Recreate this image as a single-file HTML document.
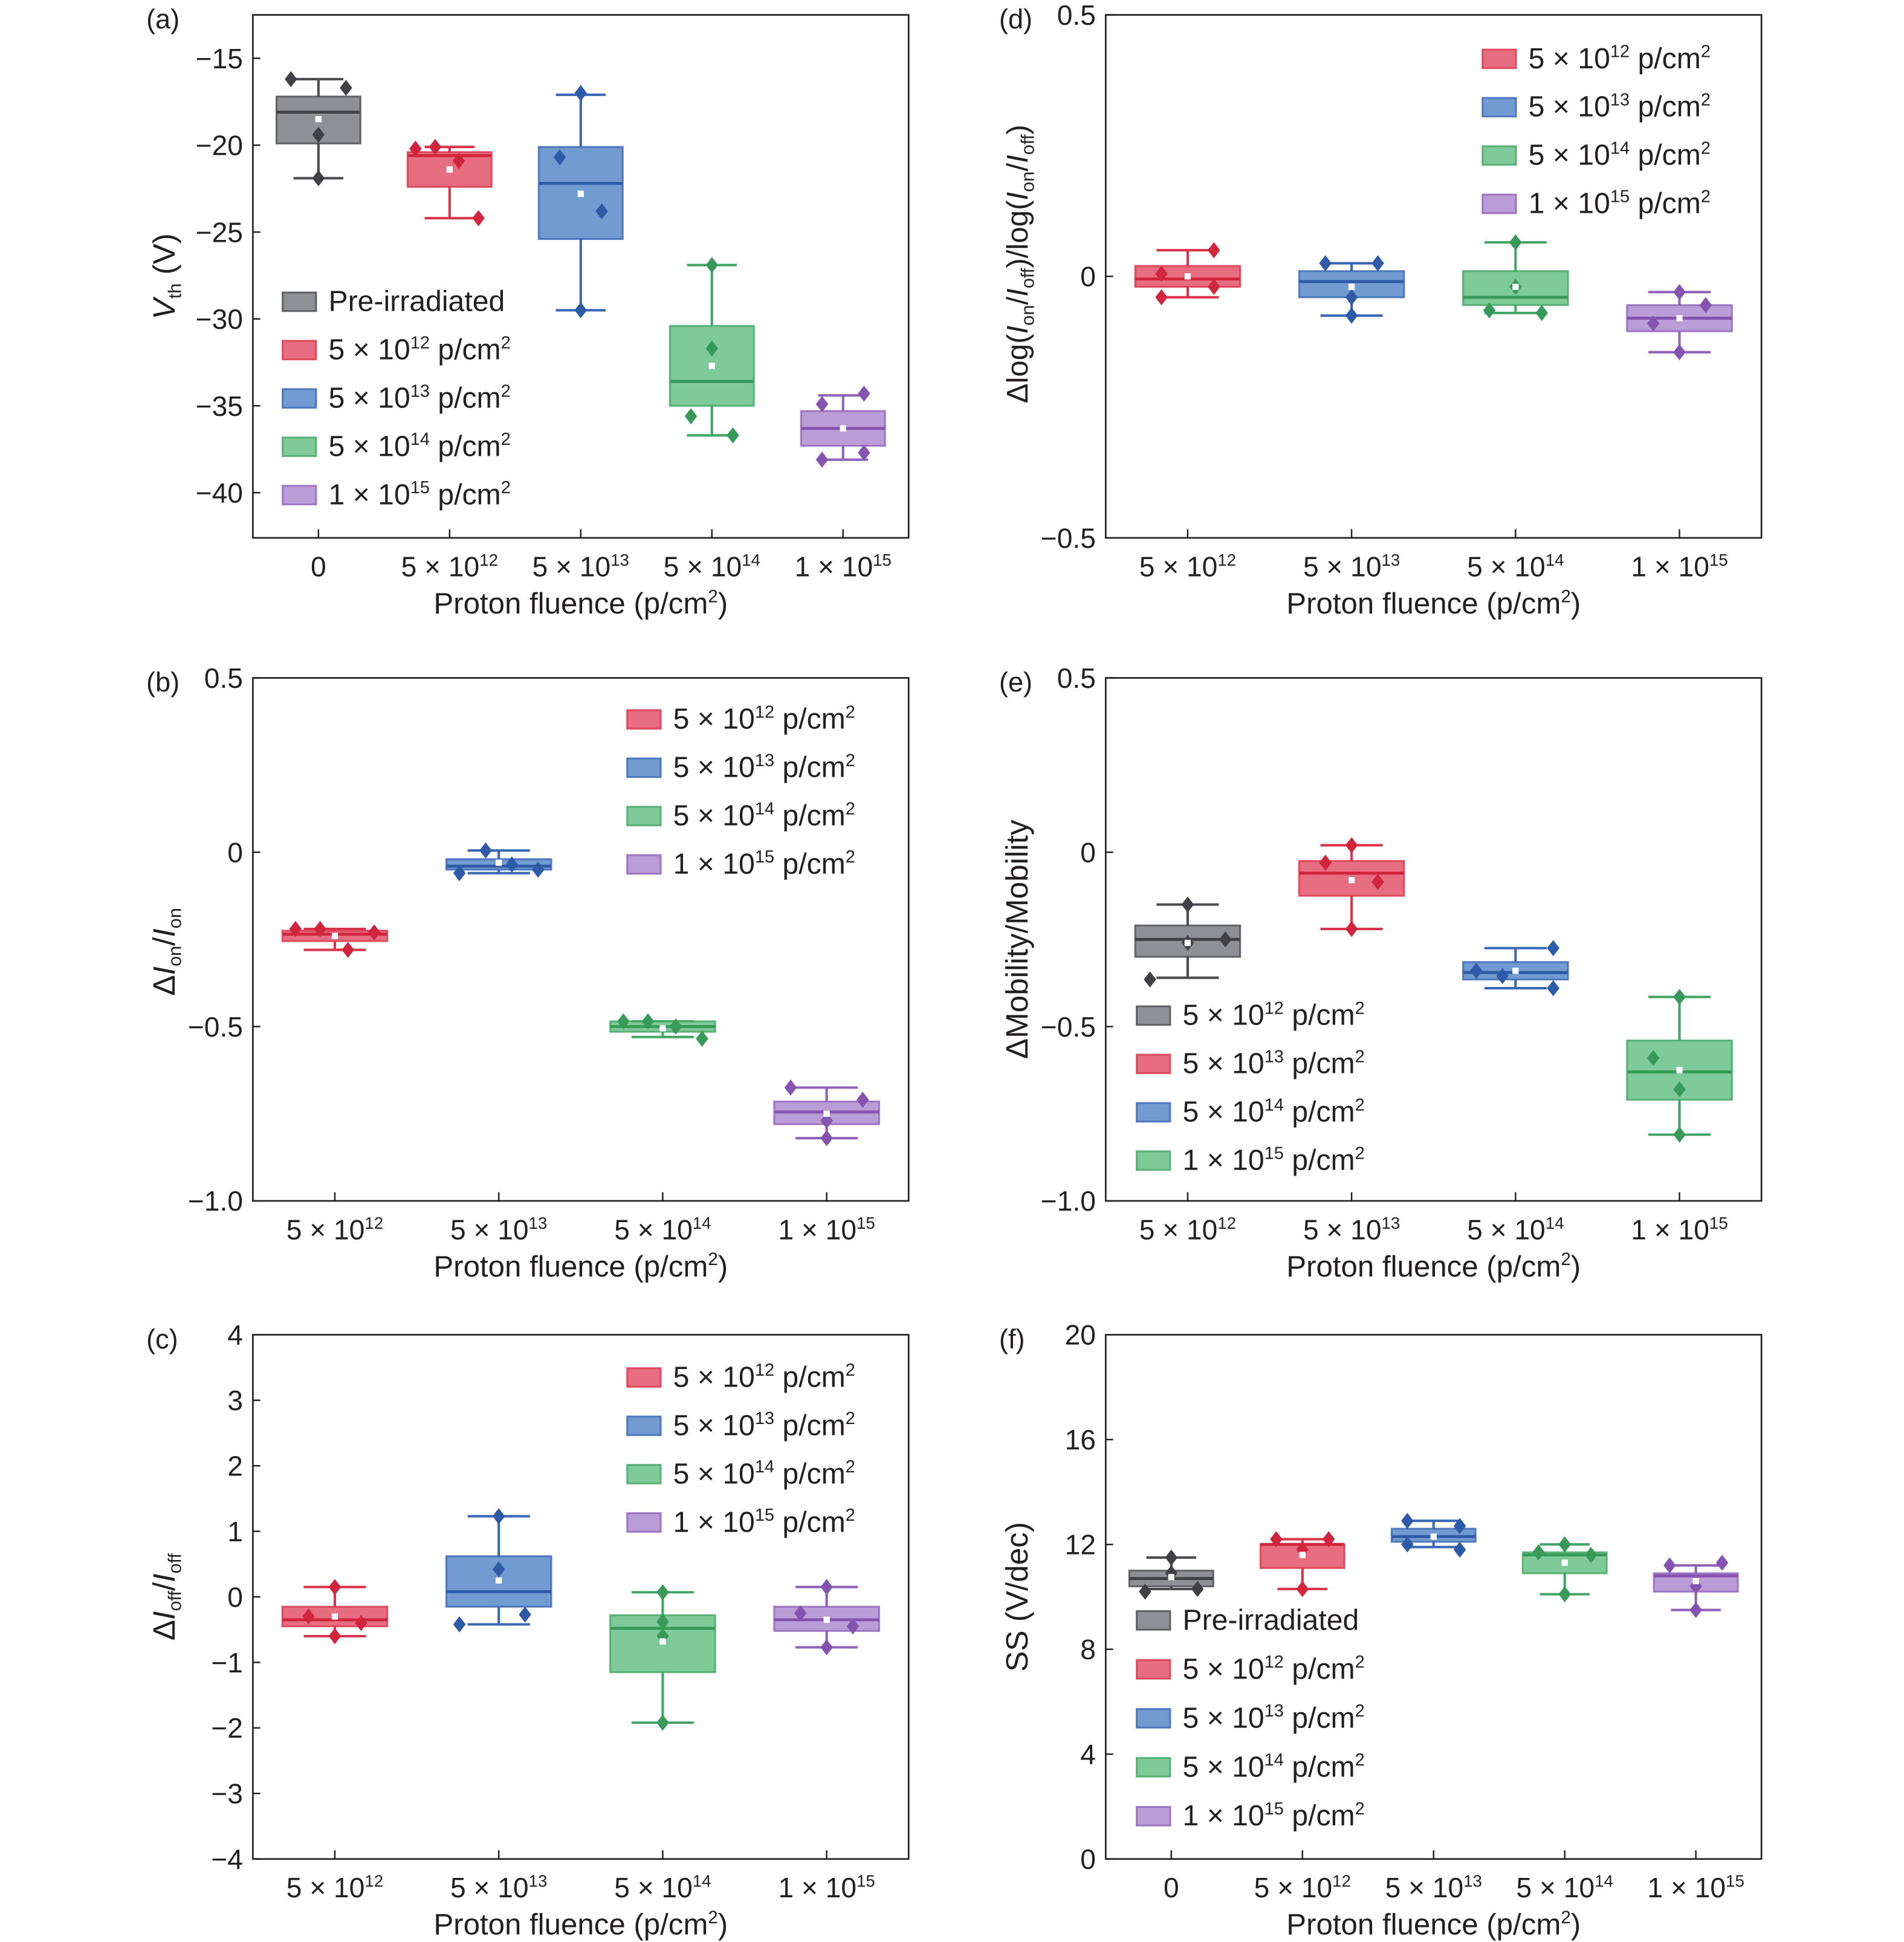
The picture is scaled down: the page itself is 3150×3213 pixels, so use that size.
<!DOCTYPE html>
<html><head><meta charset="utf-8"><style>
html,body{margin:0;padding:0;background:#fff;}
svg{display:block;}
text{font-family:"Liberation Sans",sans-serif;fill:#231f20;}
</style></head><body>
<svg id="fig" xmlns="http://www.w3.org/2000/svg" width="3150" height="3213" viewBox="0 0 1536 1567" preserveAspectRatio="none"></svg>
<script>
// ---------- data ----------
const fluence5 = ['0','5 × 10^12','5 × 10^13','5 × 10^14','1 × 10^15'];
const fluence4 = ['5 × 10^12','5 × 10^13','5 × 10^14','1 × 10^15'];
const legend5 = ['Pre-irradiated','5 × 10^12 p/cm^2','5 × 10^13 p/cm^2','5 × 10^14 p/cm^2','1 × 10^15 p/cm^2'];
const legend4 = ['5 × 10^12 p/cm^2','5 × 10^13 p/cm^2','5 × 10^14 p/cm^2','1 × 10^15 p/cm^2'];

// (a) Vth
const aTicks = [-15,-20,-25,-30,-35,-40];
const aTickLabels = ['−15','−20','−25','−30','−35','−40'];
const aQ3 = [-17.2,-20.4,-20.1,-30.4,-35.3];
const aQ1 = [-19.9,-22.4,-25.4,-35.0,-37.3];
const aMed = [-18.1,-20.6,-22.2,-33.6,-36.3];
const aHi = [-16.2,-20.1,-17.1,-26.9,-34.4];
const aLo = [-21.9,-24.2,-29.5,-36.7,-38.1];
const aMean = [-18.5,-21.4,-22.8,-32.7,-36.3];
const aPts = [[-16.2,-16.7,-19.4,-21.9],[-20.2,-20.1,-20.9,-24.2],[-17.0,-20.7,-23.8,-29.5],[-26.9,-31.7,-35.6,-36.7],[-34.9,-34.3,-37.7,-38.1]];
const aJit = [[-0.21,0.21,0,0],[-0.26,-0.11,0.07,0.22],[0,-0.16,0.16,0],[0,0,-0.16,0.16],[-0.16,0.16,0.16,-0.16]];

// (d) Δlog
const dTicks = [0.5,0,-0.5];
const dTickLabels = ['0.5','0','−0.5'];
const dQ3 = [0.02,0.01,0.01,-0.055];
const dQ1 = [-0.02,-0.04,-0.055,-0.105];
const dMed = [-0.005,-0.01,-0.04,-0.08];
const dHi = [0.05,0.025,0.065,-0.03];
const dLo = [-0.04,-0.075,-0.07,-0.145];
const dMean = [0.0,-0.02,-0.02,-0.08];
const dPts = [[0.005,0.05,-0.02,-0.04],[0.025,0.025,-0.04,-0.075],[0.065,-0.02,-0.065,-0.07],[-0.03,-0.055,-0.09,-0.145]];
const dJit = [[-0.16,0.16,0.16,-0.16],[-0.16,0.16,0,0],[0,0,-0.16,0.16],[0,0.16,-0.16,0]];

// (b) ΔIon/Ion
const bTicks = [0.5,0,-0.5,-1.0];
const bTickLabels = ['0.5','0','−0.5','−1.0'];
const bQ3 = [-0.225,-0.02,-0.485,-0.715];
const bQ1 = [-0.255,-0.05,-0.515,-0.78];
const bMed = [-0.235,-0.04,-0.5,-0.745];
const bHi = [-0.22,0.005,-0.485,-0.675];
const bLo = [-0.28,-0.06,-0.53,-0.82];
const bMean = [-0.24,-0.03,-0.505,-0.75];
const bPts = [[-0.22,-0.22,-0.23,-0.28],[0.005,-0.035,-0.06,-0.05],[-0.485,-0.485,-0.5,-0.535],[-0.675,-0.71,-0.77,-0.82]];
const bJit = [[-0.24,-0.09,0.24,0.08],[-0.08,0.08,-0.24,0.24],[-0.24,-0.09,0.08,0.24],[-0.22,0.22,0,0]];

// (e) ΔMobility
const eTicks = [0.5,0,-0.5,-1.0];
const eTickLabels = ['0.5','0','−0.5','−1.0'];
const eQ3 = [-0.21,-0.025,-0.315,-0.54];
const eQ1 = [-0.30,-0.125,-0.365,-0.71];
const eMed = [-0.25,-0.06,-0.345,-0.63];
const eHi = [-0.15,0.02,-0.275,-0.415];
const eLo = [-0.36,-0.22,-0.39,-0.81];
const eMean = [-0.26,-0.08,-0.34,-0.625];
const ePts = [[-0.15,-0.25,-0.26,-0.365],[0.02,-0.03,-0.085,-0.22],[-0.275,-0.34,-0.355,-0.39],[-0.415,-0.59,-0.68,-0.81]];
const eJit = [[0,0.23,0,-0.23],[0,-0.16,0.16,0],[0.23,-0.24,-0.08,0.23],[0,-0.16,0,0]];

// (c) ΔIoff/Ioff
const cTicks = [4,3,2,1,0,-1,-2,-3,-4];
const cTickLabels = ['4','3','2','1','0','−1','−2','−3','−4'];
const cQ3 = [-0.15,0.62,-0.28,-0.15];
const cQ1 = [-0.45,-0.15,-1.15,-0.52];
const cMed = [-0.35,0.08,-0.48,-0.35];
const cHi = [0.15,1.23,0.07,0.15];
const cLo = [-0.6,-0.42,-1.92,-0.77];
const cMean = [-0.3,0.25,-0.68,-0.35];
const cPts = [[0.15,-0.3,-0.4,-0.6],[1.23,0.42,-0.27,-0.42],[0.07,-0.38,-0.6,-1.92],[0.15,-0.25,-0.45,-0.77]];
const cJit = [[0,-0.16,0.16,0],[0,0,0.16,-0.24],[0,0,0,0],[0,-0.16,0.16,0]];

// (f) SS
const fTicks = [20,16,12,8,4,0];
const fTickLabels = ['20','16','12','8','4','0'];
const fQ3 = [11.0,12.0,12.6,11.7,10.9];
const fQ1 = [10.4,11.1,12.1,10.9,10.2];
const fMed = [10.7,12.0,12.3,11.6,10.8];
const fHi = [11.5,12.2,12.9,12.0,11.2];
const fLo = [10.3,10.3,11.9,10.1,9.5];
const fMean = [10.75,11.6,12.3,11.3,10.6];
const fPts = [[11.5,10.9,10.2,10.3],[12.2,12.2,11.8,10.3],[12.9,12.7,12.0,11.8],[12.0,11.7,11.6,10.1],[11.2,11.3,10.4,9.5]];
const fJit = [[0,0,-0.2,0.2],[-0.2,0.2,0,0],[-0.2,0.2,-0.2,0.2],[0,-0.2,0.2,0],[-0.2,0.2,0,0]];

// ---------- styling ----------
const PAL = {
  gray:{f:'#808186',s:'#4b4b50',m:'#404045'},
  red:{f:'#e45a70',s:'#d9344b',m:'#d1253d'},
  blue:{f:'#5e8dcc',s:'#3867b4',m:'#2d5ba8'},
  green:{f:'#6cc38a',s:'#43a565',m:'#379a58'},
  purple:{f:'#b08fd0',s:'#9062ba',m:'#8553b0'}
};
const col5 = ['gray','red','blue','green','purple'];
const col4 = ['red','blue','green','purple'];
const col4e = ['gray','red','blue','green'];

const NS='http://www.w3.org/2000/svg';
const fig=document.getElementById('fig');
function mk(tag,parent){const e=document.createElementNS(NS,tag);parent.appendChild(e);return e;}
function setA(e,o){for(const k in o)e.setAttribute(k,o[k]);}
function richText(t,str,size){
  const parts=str.split(/\^(\d+)/);
  parts.forEach((p,i)=>{
    if(!p)return;
    const ts=mk('tspan',t);
    if(i%2===1){setA(ts,{dy:-size*0.38,'font-size':size*0.6});ts.textContent=p;}
    else{ if(i>0) setA(ts,{dy:size*0.38}); ts.textContent=p;}
  });
}

function panel(p){
  const g=mk('g',fig);
  
  
  const n=p.cats.length, step=(p.x1-p.x0)/n;
  const X=i=>p.x0+(i+0.5)*step;
  const Y=v=>p.y1-(v-p.vmin)/(p.vmax-p.vmin)*(p.y1-p.y0);
  const fr=mk('rect',g);
  setA(fr,{x:p.x0,y:p.y0,width:p.x1-p.x0,height:p.y1-p.y0,fill:'none',stroke:'#231f20','stroke-width':1.3});
  
  
  p.yt.forEach((v,k)=>{
    const l=mk('line',g);
    setA(l,{x1:p.x0,x2:p.x0+6,y1:Y(v),y2:Y(v),stroke:'#231f20','stroke-width':1.2});
    
    
    const t=mk('text',g);
    setA(t,{x:p.x0-8,y:Y(v)+8,'text-anchor':'end','font-size':22.5});
    t.textContent=p.ytl[k];
    
    
  });
  p.cats.forEach((c,i)=>{
    const l=mk('line',g);
    setA(l,{x1:X(i),x2:X(i),y1:p.y1,y2:p.y1-7,stroke:'#231f20','stroke-width':1.2});
    
    
    const t=mk('text',g);
    setA(t,{x:X(i),y:p.y1+31,'text-anchor':'middle','font-size':22.5});
    richText(t,c,22.5);
    
    
  });
  p.cats.forEach((c,i)=>{
    const C=PAL[p.colors[i]];
    const bg=mk('g',g);
    
    
    const cx=X(i), bw=step*0.64, cw=step*0.38;
    const w=mk('path',bg);
    setA(w,{d:`M${cx},${Y(p.hi[i])}V${Y(p.q3[i])}M${cx},${Y(p.q1[i])}V${Y(p.lo[i])}M${cx-cw/2},${Y(p.hi[i])}H${cx+cw/2}M${cx-cw/2},${Y(p.lo[i])}H${cx+cw/2}`,stroke:C.s,'stroke-width':2,fill:'none'});
    
    
    const r=mk('rect',bg);
    setA(r,{x:cx-bw/2,y:Y(p.q3[i]),width:bw,height:Math.max(1,Y(p.q1[i])-Y(p.q3[i])),fill:C.f,'fill-opacity':0.88,stroke:C.s,'stroke-width':1.5,'stroke-opacity':0.8});
    
    
    const m=mk('line',bg);
    setA(m,{x1:cx-bw/2,x2:cx+bw/2,y1:Y(p.med[i]),y2:Y(p.med[i]),stroke:C.m,'stroke-width':2.4});
    
    
    p.pts[i].forEach((v,j)=>{
      const px=cx+p.jit[i][j]*step, py=Y(v);
      const d=mk('path',bg);
      setA(d,{d:`M${px},${py-6.5}L${px+5},${py}L${px},${py+6.5}L${px-5},${py}Z`,fill:C.m});
      
      
    });
    const mn=mk('rect',bg);
    setA(mn,{x:cx-2.5,y:Y(p.mean[i])-2.5,width:5,height:5,fill:'#fff'});
    
    
  });
  const lg=mk('g',g);
  
  
  p.legend.forEach((s,i)=>{
    const C=PAL[p.lcolors[i]];
    const y=p.ly+i*p.lgap;
    const sw=mk('rect',lg);
    setA(sw,{x:p.lx,y:y-7,width:27,height:15,fill:C.f,'fill-opacity':0.88,stroke:C.s,'stroke-width':1.5,'stroke-opacity':0.8});
    
    
    const t=mk('text',lg);
    setA(t,{x:p.lx+37,y:y+8,'font-size':23.5});
    richText(t,s,23.5);
    
    
  });
  const xt=mk('text',g);
  setA(xt,{x:(p.x0+p.x1)/2,y:p.y1+61,'text-anchor':'middle','font-size':24});
  richText(xt,'Proton fluence (p/cm^2)',24);
  
  
  const yt=mk('text',g);
  const ym=(p.y0+p.y1)/2+p.ytOff;
  setA(yt,{x:0,y:0,'text-anchor':'middle','font-size':p.ytSize||23.5,transform:`translate(${p.x0-63},${ym}) rotate(-90)`});
  yt.innerHTML=p.ytitle;
  
  
  const pl=mk('text',g);
  setA(pl,{x:p.labX,y:p.y0+11,'font-size':22});
  pl.textContent=p.label;
  
  
}
const sub=(s)=>`<tspan dy="5" font-size="15">${s}</tspan><tspan dy="-5">`;
panel({name:'panel-a-vth',label:'(a)',labX:118,x0:204,x1:733,y0:12,y1:434,vmin:-42.6,vmax:-12.5,yt:aTicks,ytl:aTickLabels,cats:fluence5,colors:col5,
  q1:aQ1,q3:aQ3,med:aMed,hi:aHi,lo:aLo,mean:aMean,pts:aPts,jit:aJit,legend:legend5,lcolors:col5,lx:228,ly:243,lgap:39,
  ytitle:'<tspan font-style="italic">V</tspan>'+sub('th')+' (V)</tspan>',ytOff:0,ytSize:25});
panel({name:'panel-d-onoff-ratio',label:'(d)',labX:806,x0:892,x1:1421,y0:12,y1:434,vmin:-0.5,vmax:0.5,yt:dTicks,ytl:dTickLabels,cats:fluence4,colors:col4,
  q1:dQ1,q3:dQ3,med:dMed,hi:dHi,lo:dLo,mean:dMean,pts:dPts,jit:dJit,legend:legend4,lcolors:col4,lx:1196,ly:47,lgap:39,
  ytitle:'Δlog(<tspan font-style="italic">I</tspan>'+sub('on')+'/<tspan font-style="italic">I</tspan>'+sub('off')+')/log(<tspan font-style="italic">I</tspan>'+sub('on')+'/<tspan font-style="italic">I</tspan>'+sub('off')+')</tspan></tspan></tspan></tspan>',ytOff:-10,ytSize:24});
panel({name:'panel-b-ion',label:'(b)',labX:118,x0:204,x1:733,y0:547,y1:969,vmin:-1,vmax:0.5,yt:bTicks,ytl:bTickLabels,cats:fluence4,colors:col4,
  q1:bQ1,q3:bQ3,med:bMed,hi:bHi,lo:bLo,mean:bMean,pts:bPts,jit:bJit,legend:legend4,lcolors:col4,lx:506,ly:580,lgap:39,
  ytitle:'Δ<tspan font-style="italic">I</tspan>'+sub('on')+'/<tspan font-style="italic">I</tspan>'+sub('on')+'</tspan></tspan>',ytOff:10,ytSize:25});
panel({name:'panel-e-mobility',label:'(e)',labX:806,x0:892,x1:1421,y0:547,y1:969,vmin:-1,vmax:0.5,yt:eTicks,ytl:eTickLabels,cats:fluence4,colors:col4e,
  q1:eQ1,q3:eQ3,med:eMed,hi:eHi,lo:eLo,mean:eMean,pts:ePts,jit:eJit,legend:legend4,lcolors:col4e,lx:917,ly:819,lgap:39,
  ytitle:'ΔMobility/Mobility',ytOff:0,ytSize:25});
panel({name:'panel-c-ioff',label:'(c)',labX:118,x0:204,x1:733,y0:1077,y1:1500,vmin:-4,vmax:4,yt:cTicks,ytl:cTickLabels,cats:fluence4,colors:col4,
  q1:cQ1,q3:cQ3,med:cMed,hi:cHi,lo:cLo,mean:cMean,pts:cPts,jit:cJit,legend:legend4,lcolors:col4,lx:506,ly:1111,lgap:39,
  ytitle:'Δ<tspan font-style="italic">I</tspan>'+sub('off')+'/<tspan font-style="italic">I</tspan>'+sub('off')+'</tspan></tspan>',ytOff:0,ytSize:25});
panel({name:'panel-f-ss',label:'(f)',labX:806,x0:892,x1:1421,y0:1077,y1:1500,vmin:0,vmax:20,yt:fTicks,ytl:fTickLabels,cats:fluence5,colors:col5,
  q1:fQ1,q3:fQ3,med:fMed,hi:fHi,lo:fLo,mean:fMean,pts:fPts,jit:fJit,legend:legend5,lcolors:col5,lx:917,ly:1307,lgap:39.5,
  ytitle:'SS (V/dec)',ytOff:0,ytSize:25});
</script>
</body></html>
